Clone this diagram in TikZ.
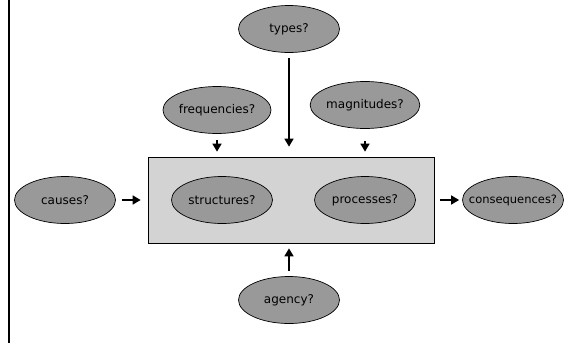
\documentclass[tikz,border=0pt]{standalone}
\usepackage{fontspec}
\setmainfont{DejaVu Sans}
\usetikzlibrary{shapes.geometric,arrows.meta}
\definecolor{ellfill}{HTML}{999999}
\definecolor{boxfill}{HTML}{D3D3D3}
\begin{document}
\begin{tikzpicture}[x=1pt,y=-1pt,
  q/.style={ellipse,draw=black,line width=0.7pt,fill=ellfill,minimum width=101pt,minimum height=47pt,inner sep=0pt,font=\fontsize{12}{14}\selectfont},
  arr/.style={line width=1.6pt,-{Triangle[width=9pt,length=8pt]}}]
\useasboundingbox (0,0) rectangle (575,343);
\draw[line width=2pt] (8.5,0) -- (8.5,343);
\node[draw=black,line width=0.7pt,fill=boxfill,minimum width=286pt,minimum height=86pt,inner sep=0pt] (box) at (291,200) {};
\node[q] (types) at (289,29) {types?};
\node[q] (freq) at (217,110) {frequencies?};
\node[q] (magn) at (365,105) {magnitudes?};
\node[q] (struct) at (222,200) {structures?};
\node[q] (proc) at (365,200) {processes?};
\node[q] (causes) at (65,200) {causes?};
\node[q] (cons) at (513,200) {\makebox[0pt]{\fontsize{11.5}{14}\selectfont consequences?}};
\node[q] (agency) at (289,300) {agency?};
\draw[arr,shorten <=5pt,shorten >=10pt] (types) -- (types |- box.north);
\draw[arr,shorten <=6pt,shorten >=5pt] (freq) -- (freq |- box.north);
\draw[arr,shorten <=12pt,shorten >=5pt] (magn) -- (magn |- box.north);
\draw[arr,shorten <=6pt,shorten >=7pt] (causes) -- (causes -| box.west);
\draw[arr,shorten <=6pt,shorten >=3pt] (box.east |- cons) -- (cons);
\draw[arr,shorten <=5pt,shorten >=5pt] (agency) -- (agency |- box.south);
\end{tikzpicture}
\end{document}
